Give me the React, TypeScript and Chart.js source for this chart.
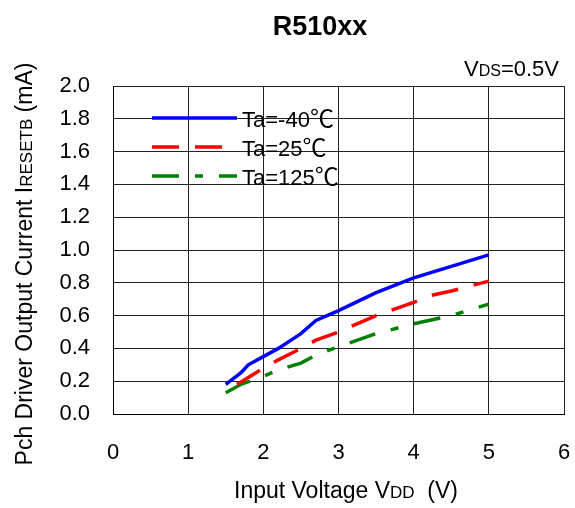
import React, { useEffect, useRef } from "react";
import { Chart, registerables } from "chart.js";

Chart.register(...registerables);

const titleText = "R510xx";
const conditionText = ["V", "DS", "=0.5V"];
const xTicks = [0, 1, 2, 3, 4, 5, 6];
const yTicks = [0, 0.2, 0.4, 0.6, 0.8, 1.0, 1.2, 1.4, 1.6, 1.8, 2.0];

const seriesLabels = ["Ta=-40", "Ta=25", "Ta=125"];
const unitLabel = "℃";
const seriesColors = ["#0000ff", "#ff0000", "#008000"];
const seriesDashes: number[][] = [[], [27, 16], [27, 16, 8, 16]];

const blueX = [1.5, 1.7, 1.8, 2.0, 2.2, 2.5, 2.7, 3.0, 3.5, 4.0, 4.5, 5.0];
const blueY = [0.18, 0.25, 0.3, 0.35, 0.4, 0.49, 0.57, 0.63, 0.74, 0.83, 0.9, 0.97];
const redX = [1.65, 2.0, 2.2, 2.5, 2.7, 3.0, 3.5, 4.0, 4.2, 4.5, 5.0];
const redY = [0.18, 0.28, 0.33, 0.4, 0.45, 0.5, 0.6, 0.68, 0.72, 0.75, 0.81];
const greenX = [1.5, 1.7, 2.0, 2.2, 2.5, 2.7, 3.0, 3.5, 4.0, 4.5, 5.0];
const greenY = [0.13, 0.18, 0.23, 0.27, 0.31, 0.36, 0.41, 0.49, 0.55, 0.6, 0.67];

const FONT = "Arial, 'Liberation Sans', sans-serif";
const CJK = "'Noto Sans CJK JP', sans-serif";

function pts(xs: number[], ys: number[]) {
  return xs.map((x, i) => ({ x, y: ys[i] }));
}

function drawPieces(
  ctx: CanvasRenderingContext2D,
  pieces: [string, number, string?][],
  x: number,
  y: number,
  align: "left" | "center" | "right"
) {
  let total = 0;
  const widths = pieces.map(([t, s, f]) => {
    ctx.font = `${s}px ${f || FONT}`;
    const w = ctx.measureText(t).width;
    total += w;
    return w;
  });
  let cx = align === "left" ? x : align === "center" ? x - total / 2 : x - total;
  pieces.forEach(([t, s, f], i) => {
    ctx.font = `${s}px ${f || FONT}`;
    ctx.textAlign = "left";
    ctx.textBaseline = "alphabetic";
    ctx.fillText(t, cx, y);
    cx += widths[i];
  });
}

const overlayPlugin = {
  id: "overlay",
  afterDraw(chart: any) {
    const ctx: CanvasRenderingContext2D = chart.ctx;
    ctx.save();
    ctx.fillStyle = "#000";
    // title
    ctx.font = `bold 27px ${FONT}`;
    ctx.textAlign = "center";
    ctx.textBaseline = "alphabetic";
    ctx.fillText(titleText, 320, 35);
    // condition
    drawPieces(ctx, [[conditionText[0], 22], [conditionText[1], 16], [conditionText[2], 22]], 559, 76, "right");
    // x title
    drawPieces(ctx, [["Input Voltage V", 23], ["DD", 17], ["  (V)", 23]], 346, 498, "center");
    // y title
    ctx.save();
    ctx.translate(32, 264);
    ctx.rotate(-Math.PI / 2);
    drawPieces(ctx, [["Pch Driver Output Current I", 23], ["RESETB", 17], [" (mA)", 23]], 0, 0, "center");
    ctx.restore();
    // legend
    const lx0 = 152, lx1 = 237;
    const ly = [118, 147, 176];
    seriesLabels.forEach((lab, i) => {
      ctx.save();
      ctx.strokeStyle = seriesColors[i];
      ctx.lineWidth = 3.5;
      ctx.setLineDash(seriesDashes[i]);
      ctx.beginPath();
      ctx.moveTo(lx0, ly[i]);
      ctx.lineTo(lx1, ly[i]);
      ctx.stroke();
      ctx.restore();
      ctx.fillStyle = "#000";
      drawPieces(ctx, [[lab, 22], [unitLabel, 24, CJK]], 242, ly[i] + 9, "left");
    });
    ctx.restore();
  },
};

export default function App() {
  const ref = useRef<HTMLCanvasElement>(null);
  useEffect(() => {
    if (!ref.current) return;
    const datasets = [pts(blueX, blueY), pts(redX, redY), pts(greenX, greenY)].map((d, i) => ({
      label: seriesLabels[i] + unitLabel,
      data: d,
      borderColor: seriesColors[i],
      backgroundColor: seriesColors[i],
      borderWidth: 3.5,
      borderDash: seriesDashes[i],
      pointRadius: 0,
      tension: 0,
      fill: false,
    }));
    const chart = new Chart(ref.current, {
      type: "line",
      data: { datasets },
      plugins: [overlayPlugin],
      options: {
        animation: false,
        responsive: true,
        maintainAspectRatio: false,
        layout: { autoPadding: false, padding: { top: 86, right: 11, left: 0, bottom: 0 } },
        plugins: { legend: { display: false }, title: { display: false }, tooltip: { enabled: false } },
        scales: {
          x: {
            type: "linear",
            min: 0,
            max: 6,
            afterBuildTicks: (s: any) => { s.ticks = xTicks.map((v) => ({ value: v })); },
            afterFit: (s: any) => { s.height = 94; s.paddingLeft = 0; s.paddingRight = 0; },
            ticks: { color: "#000", font: { size: 22, family: FONT }, padding: 26, maxRotation: 0, callback: (v: any) => String(v) },
            grid: { color: "#222", lineWidth: 1, drawTicks: false },
            border: { color: "#000", width: 1 },
          },
          y: {
            type: "linear",
            min: 0,
            max: 2,
            afterBuildTicks: (s: any) => { s.ticks = yTicks.map((v) => ({ value: v })); },
            afterFit: (s: any) => { s.width = 113; s.paddingTop = 0; s.paddingBottom = 0; },
            ticks: { color: "#000", font: { size: 22, family: FONT }, padding: 23, callback: (v: any) => Number(v).toFixed(1) },
            grid: { color: "#222", lineWidth: 1, drawTicks: false },
            border: { color: "#000", width: 1 },
          },
        },
      },
    });
    return () => chart.destroy();
  }, []);
  return (
    <div style={{ position: "fixed", left: 0, top: 0, width: 575, height: 508 }}>
      <canvas ref={ref} />
    </div>
  );
}
